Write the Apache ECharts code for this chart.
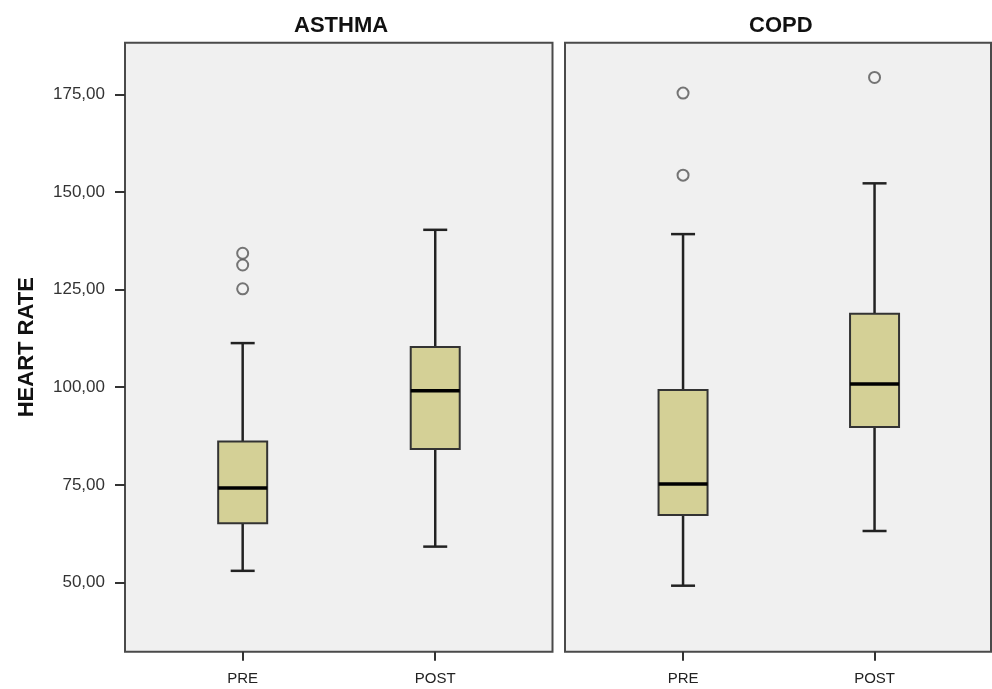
<!DOCTYPE html>
<html>
<head>
<meta charset="utf-8">
<script src="https://cdn.jsdelivr.net/npm/echarts@6/dist/echarts.min.js"></script>
<style>
  html, body { margin: 0; padding: 0; background: #fff; }
  #chart { width: 992px; height: 689px; }
</style>
</head>
<body>
<div id="chart"></div>
<script>
// panels and groups
const groups = ['ASTHMA', 'COPD']
const categories = ['PRE', 'POST']

// [min, Q1, median, Q3, max] per category
const asthmaStats = [
  [53.0, 65.2, 74.2, 86.1, 111.3],
  [59.2, 84.2, 99.1, 110.3, 140.3]
]
const copdStats = [
  [49.2, 67.3, 75.2, 99.3, 139.2],
  [63.2, 89.8, 100.8, 118.8, 152.2]
]

// outliers: [category index, value]
const asthmaOutliers = [[0, 125.2], [0, 131.3], [0, 134.3]]
const copdOutliers = [[0, 154.3], [0, 175.3], [1, 179.3]]

const yTicks = [50, 75, 100, 125, 150, 175]
const yMin = 32.3
const yMax = 188.2

const fontFamily = '"Liberation Sans", Arial, sans-serif'

const myChart = echarts.init(document.getElementById('chart'))

// draws one box with half-width whisker caps
const renderBox = (params, api) => {
  const i = api.value(0)
  const lo = api.coord([i, api.value(1)])
  const q1 = api.coord([i, api.value(2)])
  const md = api.coord([i, api.value(3)])
  const q3 = api.coord([i, api.value(4)])
  const hi = api.coord([i, api.value(5)])
  const cx = lo[0]
  const hw = 24.5
  const cap = 12
  const stroke = '#222'
  return {
    type: 'group',
    children: [
      { type: 'line', shape: { x1: cx, y1: hi[1], x2: cx, y2: q3[1] }, style: { stroke: stroke, lineWidth: 2.5 } },
      { type: 'line', shape: { x1: cx, y1: q1[1], x2: cx, y2: lo[1] }, style: { stroke: stroke, lineWidth: 2.5 } },
      { type: 'line', shape: { x1: cx - cap, y1: hi[1], x2: cx + cap, y2: hi[1] }, style: { stroke: stroke, lineWidth: 2.5 } },
      { type: 'line', shape: { x1: cx - cap, y1: lo[1], x2: cx + cap, y2: lo[1] }, style: { stroke: stroke, lineWidth: 2.5 } },
      {
        type: 'rect',
        shape: { x: cx - hw, y: q3[1], width: hw * 2, height: q1[1] - q3[1] },
        style: { fill: '#d4d096', stroke: '#333', lineWidth: 2 }
      },
      { type: 'line', shape: { x1: cx - hw, y1: md[1], x2: cx + hw, y2: md[1] }, style: { stroke: '#000', lineWidth: 3.5 } }
    ]
  }
}

const frameGrid = (left, right) => ({
  left: left, right: right, top: 42.7, bottom: 37.3,
  show: true, backgroundColor: '#f0f0f0', borderColor: '#4a4a4a', borderWidth: 2
})
const dataGrid = (left, right) => ({ left: left, right: right, top: 42.7, bottom: 37.3 })

const hiddenX = (gi) => ({ gridIndex: gi, type: 'category', data: categories, show: false })
const catX = (gi) => ({
  gridIndex: gi,
  type: 'category',
  data: categories,
  axisLine: { show: false },
  axisTick: { show: true, alignWithLabel: true, length: 9, lineStyle: { color: '#333', width: 2 } },
  axisLabel: { color: '#222', fontSize: 15, margin: 20, fontFamily: fontFamily }
})
const hiddenY = (gi) => ({ gridIndex: gi, type: 'value', min: yMin, max: yMax, show: false, splitLine: { show: false } })

const toData = (stats) => stats.map((s, i) => [i].concat(s))

const option = {
  animation: false,
  title: [
    { text: groups[0], left: 289, top: 10, textStyle: { fontSize: 22, fontWeight: 'bold', color: '#111', fontFamily: fontFamily } },
    { text: groups[1], left: 744, top: 10, textStyle: { fontSize: 22, fontWeight: 'bold', color: '#111', fontFamily: fontFamily } }
  ],
  grid: [
    frameGrid(125, 439.5),
    dataGrid(146.4, 460.5),
    frameGrid(565, 1),
    dataGrid(587.3, 21.7)
  ],
  xAxis: [hiddenX(0), catX(1), hiddenX(2), catX(3)],
  yAxis: [
    {
      gridIndex: 0,
      type: 'value',
      min: yMin,
      max: yMax,
      name: 'HEART RATE',
      nameLocation: 'middle',
      nameGap: 87,
      nameTextStyle: { fontSize: 22, fontWeight: 'bold', color: '#111', fontFamily: fontFamily },
      axisLine: { show: false },
      axisTick: { show: true, customValues: yTicks, length: 10, lineStyle: { color: '#333', width: 2 } },
      axisLabel: {
        customValues: yTicks,
        formatter: (v) => v.toFixed(2).replace('.', ','),
        fontSize: 17,
        color: '#333',
        margin: 20,
        fontFamily: fontFamily
      },
      splitLine: { show: false }
    },
    hiddenY(1),
    hiddenY(2),
    hiddenY(3)
  ],
  series: [
    {
      name: groups[0],
      type: 'custom',
      xAxisIndex: 1,
      yAxisIndex: 1,
      renderItem: renderBox,
      encode: { x: 0, y: [1, 2, 3, 4, 5] },
      data: toData(asthmaStats)
    },
    {
      name: groups[1],
      type: 'custom',
      xAxisIndex: 3,
      yAxisIndex: 3,
      renderItem: renderBox,
      encode: { x: 0, y: [1, 2, 3, 4, 5] },
      data: toData(copdStats)
    },
    {
      type: 'scatter',
      xAxisIndex: 1,
      yAxisIndex: 1,
      symbol: 'circle',
      symbolSize: 11,
      itemStyle: { color: '#f2f2f2', borderColor: '#555', borderWidth: 2 },
      data: asthmaOutliers
    },
    {
      type: 'scatter',
      xAxisIndex: 3,
      yAxisIndex: 3,
      symbol: 'circle',
      symbolSize: 11,
      itemStyle: { color: '#f2f2f2', borderColor: '#555', borderWidth: 2 },
      data: copdOutliers
    }
  ]
}

myChart.setOption(option)
</script>
</body>
</html>
